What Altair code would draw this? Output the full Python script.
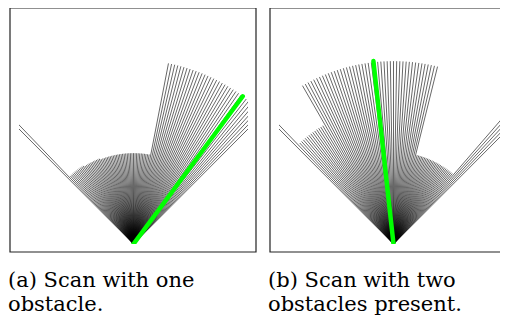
import altair as alt
import numpy as np
import pandas as pd

# beam angles of the laser scan, degrees (1 degree apart, 45..135)
angles = list(range(45, 136))

# measured ranges (same units as the axes, plot spans -1..1 horizontally)
scan_a = [
    1.60, 1.60, 1.60, 1.60, 1.60, 1.60, 1.60, 1.60, 1.60, 1.60,
    1.60, 1.60, 1.60, 1.60, 1.60, 1.60, 1.60, 1.60, 1.60, 1.60,
    1.60, 1.60, 1.60, 1.60, 1.60, 1.60, 1.60, 1.60, 1.60, 1.60,
    1.60, 1.60, 1.60, 1.60, 1.60,
    0.79, 0.79, 0.79, 0.79, 0.79, 0.79, 0.79, 0.79, 0.79, 0.79,
    0.79, 0.79, 0.79, 0.79, 0.79, 0.79, 0.79, 0.79, 0.79, 0.79,
    0.79, 0.79, 0.79, 0.79, 0.79, 0.79, 0.79, 0.79, 0.79, 0.79,
    0.79, 0.79, 0.80, 0.80, 0.80, 0.80, 0.80, 0.80, 0.80, 0.80,
    0.80, 0.80, 0.80, 0.81, 0.81, 0.81, 0.81, 0.81, 0.81, 0.81,
    0.81, 0.81, 0.81, 0.81,
    1.60, 1.60,
]
scan_b = [
    1.60, 1.60, 1.60, 1.60, 1.60,
    0.80, 0.80, 0.80, 0.80, 0.80, 0.80, 0.80, 0.80, 0.80, 0.80,
    0.80, 0.80, 0.80, 0.80, 0.80, 0.80, 0.80, 0.80, 0.80, 0.80,
    0.80, 0.80, 0.80, 0.80, 0.80, 0.80,
    1.59, 1.59, 1.59, 1.59, 1.59, 1.59, 1.59, 1.59, 1.59, 1.59,
    1.59, 1.59, 1.59, 1.59, 1.59, 1.59, 1.59, 1.59, 1.59, 1.59,
    1.59, 1.59, 1.59, 1.59, 1.59, 1.59, 1.59, 1.59, 1.59, 1.59,
    1.59, 1.59, 1.59, 1.59, 1.59, 1.59, 1.59, 1.59, 1.59, 1.59,
    1.59, 1.59, 1.59, 1.59, 1.59,
    1.20, 1.20, 1.20, 1.20, 1.20, 1.20, 1.20, 1.20, 1.20, 1.20,
    1.20, 1.20, 1.20,
    1.60, 1.60,
]

# chosen direction (green) for each scan: angle in degrees, length
chosen_a = [53.4, 1.60]
chosen_b = [96.3, 1.60]

captions_a = ["(a) Scan with one", "obstacle."]
captions_b = ["(b) Scan with two", "obstacles present."]

W, H = 229, 230
xs = alt.Scale(domain=[-1, 1], nice=False, zero=False)
ys = alt.Scale(domain=[0, 2], nice=False, zero=False)


def rays_df(ranges):
    a = np.radians(np.array(angles, dtype=float))
    r = np.array(ranges)
    return pd.DataFrame({"x0": 0.0, "y0": 0.0, "x1": r * np.cos(a), "y1": r * np.sin(a)})


def panel(ranges, chosen, captions):
    rays = alt.Chart(rays_df(ranges)).mark_rule(
        color="black", strokeWidth=0.6, clip=True
    ).encode(
        x=alt.X("x0:Q", scale=xs, axis=None),
        y=alt.Y("y0:Q", scale=ys, axis=None),
        x2="x1:Q",
        y2="y1:Q",
    )
    ang = np.radians(chosen[0])
    gdf = pd.DataFrame({"x0": [0.0], "y0": [0.0],
                        "x1": [chosen[1] * np.cos(ang)], "y1": [chosen[1] * np.sin(ang)]})
    green = alt.Chart(gdf).mark_rule(
        color="#00ff00", strokeWidth=4.5, strokeCap="round", clip=True
    ).encode(
        x=alt.X("x0:Q", scale=xs, axis=None),
        y=alt.Y("y0:Q", scale=ys, axis=None),
        x2="x1:Q",
        y2="y1:Q",
    )
    frame = alt.Chart(pd.DataFrame({"f": [0]})).mark_rect(
        fillOpacity=0, stroke="#222222", strokeWidth=1.2
    ).encode(
        x=alt.value(-9), x2=alt.value(237), y=alt.value(-6), y2=alt.value(238)
    )
    cap = alt.Chart(pd.DataFrame({"c": ["\n".join(captions)]})).mark_text(
        align="left", baseline="alphabetic",
        font="DejaVu Serif, Liberation Serif, serif", fontSize=21,
        lineHeight=24, lineBreak="\n", color="black"
    ).encode(text="c:N", x=alt.value(-11), y=alt.value(273))
    return alt.layer(rays, green, frame, cap).properties(width=W, height=H)


chart = alt.hconcat(
    panel(scan_a, chosen_a, captions_a),
    panel(scan_b, chosen_b, captions_b),
    spacing=31, bounds="flush",
).properties(
    autosize=alt.AutoSizeParams(type="none"),
    padding={"left": 11, "top": 6, "right": 481, "bottom": 302},
).configure_view(stroke=None)

chart.save("out.html", embed_options={"renderer": "svg", "actions": False})
